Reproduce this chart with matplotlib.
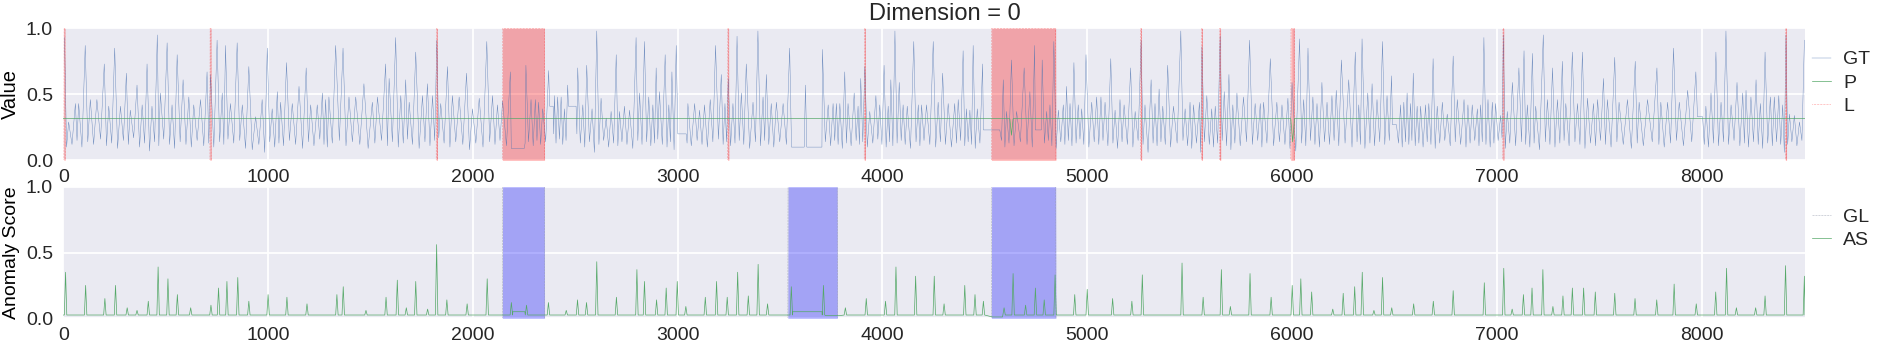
import numpy as np
import matplotlib
matplotlib.use("Agg")
import matplotlib.pyplot as plt

# ---------------- data ----------------
N = 8505
X_TICKS = [0, 1000, 2000, 3000, 4000, 5000, 6000, 7000, 8000]
Y_TICKS = [0.0, 0.5, 1.0]
TITLE = "Dimension = 0"

# GT: key points (x, value) and the low value reached after each key point
GT_X = [6, 26, 59, 75, 107, 132, 164, 200, 222, 251,
        279, 308, 327, 360, 385, 409, 433, 459, 474, 507,
        531, 556, 585, 613, 637, 670, 702, 719, 751, 776,
        792, 816, 849, 874, 906, 939, 971, 996, 1020, 1045,
        1061, 1090, 1118, 1151, 1186, 1208, 1240, 1265, 1281, 1297,
        1330, 1366, 1395, 1428, 1468, 1509, 1534, 1574, 1591, 1623,
        1648, 1672, 1689, 1721, 1754, 1778, 1803, 1824, 1843, 1876,
        1900, 1933, 1969, 1998, 2031, 2068, 2096, 2120, 2145, 2183,
        2192, 2251, 2259, 2284, 2305, 2321, 2341, 2370, 2380, 2392,
        2398, 2414, 2431, 2447, 2463, 2470, 2504, 2512, 2537, 2556,
        2582, 2605, 2626, 2651, 2675, 2700, 2716, 2740, 2765, 2797,
        2814, 2838, 2859, 2879, 2895, 2911, 2939, 2957, 2972, 2993,
        3009, 3042, 3050, 3083, 3107, 3131, 3159, 3185, 3213, 3231,
        3247, 3270, 3290, 3311, 3335, 3368, 3392, 3417, 3433, 3457,
        3482, 3515, 3547, 3565, 3612, 3624, 3637, 3702, 3707, 3735,
        3759, 3775, 3792, 3816, 3832, 3862, 3881, 3894, 3914, 3938,
        3968, 3987, 4008, 4028, 4041, 4061, 4082, 4101, 4121, 4153,
        4175, 4191, 4215, 4248, 4272, 4294, 4321, 4353, 4370, 4394,
        4410, 4427, 4443, 4463, 4489, 4497, 4573, 4590, 4606, 4630,
        4655, 4692, 4720, 4743, 4750, 4772, 4780, 4802, 4818, 4837,
        4859, 4883, 4899, 4916, 4935, 4956, 4973, 4994, 5022, 5046,
        5067, 5087, 5115, 5136, 5160, 5180, 5212, 5234, 5263, 5282,
        5312, 5331, 5351, 5369, 5393, 5421, 5457, 5478, 5502, 5519,
        5548, 5560, 5584, 5608, 5625, 5649, 5669, 5692, 5711, 5731,
        5763, 5793, 5820, 5845, 5861, 5894, 5926, 5951, 5980, 6000,
        6037, 6057, 6078, 6102, 6122, 6146, 6171, 6195, 6216, 6241,
        6277, 6309, 6326, 6342, 6370, 6391, 6415, 6442, 6464, 6486,
        6495, 6510, 6530, 6546, 6562, 6579, 6592, 6611, 6628, 6652,
        6668, 6689, 6709, 6734, 6758, 6787, 6807, 6840, 6859, 6880,
        6905, 6921, 6937, 6957, 6978, 6994, 7019, 7032, 7051, 7076,
        7108, 7133, 7149, 7174, 7190, 7227, 7247, 7272, 7296, 7320,
        7337, 7369, 7394, 7418, 7443, 7472, 7492, 7521, 7540, 7576,
        7597, 7638, 7676, 7695, 7736, 7782, 7801, 7834, 7863, 7891,
        7932, 7972, 7988, 8005, 8021, 8046, 8070, 8095, 8119, 8144,
        8173, 8201, 8217, 8241, 8266, 8287, 8310, 8336, 8355, 8377,
        8396, 8412, 8429, 8453, 8478, 8502]
GT_PEAK = [.93, .29, .43, .43, .87, .46, .46, .73, .41, .85,
           .41, .66, .38, .57, .42, .73, .41, .95, .51, .89,
           .42, .80, .61, .48, .42, .46, .67, .65, .91, .51,
           .87, .43, .89, .42, .71, .33, .46, .85, .39, .52,
           .44, .74, .43, .56, .70, .42, .42, .51, .46, .48,
           .87, .85, .48, .48, .58, .44, .48, .73, .62, .93,
           .49, .61, .44, .82, .49, .58, .49, .91, .43, .71,
           .49, .48, .66, .39, .47, .90, .49, .42, .45, .67,
           .09, .09, .72, .46, .46, .44, .39, .68, .41, .41,
           .49, .48, .48, .39, .57, .41, .41, .70, .42, .72,
           .39, .98, .47, .32, .37, .80, .37, .41, .38, .93,
           .51, .90, .48, .42, .70, .52, .80, .42, .67, .87,
           .20, .20, .43, .43, .38, .42, .46, .87, .65, .43,
           .62, .43, .94, .51, .73, .44, .98, .48, .65, .43,
           .44, .43, .85, .10, .10, .57, .10, .10, .84, .42,
           .43, .43, .43, .67, .43, .51, .41, .62, .71, .37,
           .49, .42, .72, .41, .61, .98, .59, .42, .41, .90,
           .42, .42, .42, .90, .44, .66, .43, .43, .46, .83,
           .39, .38, .87, .39, .73, .23, .23, .61, .37, .76,
           .37, .70, .52, .87, .23, .23, .76, .37, .42, .90,
           .38, .42, .56, .43, .74, .42, .39, .80, .44, .48,
           .48, .44, .77, .38, .46, .42, .70, .37, .91, .42,
           .61, .43, .54, .41, .72, .41, .98, .39, .44, .42,
           .44, .86, .49, .39, .41, .94, .52, .65, .42, .51,
           .48, .91, .43, .43, .44, .77, .44, .42, .47, .59,
           .92, .46, .85, .48, .43, .59, .44, .49, .53, .76,
           .61, .82, .42, .92, .51, .58, .46, .90, .49, .64,
           .27, .27, .42, .44, .51, .43, .66, .41, .41, .42,
           .43, .77, .41, .44, .35, .79, .46, .46, .42, .42,
           .39, .42, .93, .46, .44, .43, .34, .95, .37, .59,
           .70, .83, .42, .81, .41, .95, .46, .70, .46, .75,
           .43, .82, .43, .82, .47, .43, .46, .62, .46, .78,
           .44, .46, .75, .44, .46, .70, .44, .44, .85, .44,
           .53, .67, .33, .33, .41, .51, .82, .44, .98, .42,
           .59, .51, .53, .48, .61, .43, .82, .48, .48, .49,
           .42, .95, .35, .34, .29, .91]
GT_VALLEY = [.10, .12, .15, .10, .14, .12, .16, .11, .13, .09,
             .15, .12, .17, .10, .13, .07, .14, .11, .16, .12,
             .09, .14, .12, .10, .15, .11, .13, .10, .14, .12,
             .16, .13, .15, .09, .08, .12, .06, .14, .10, .13,
             .11, .15, .12, .09, .14, .11, .16, .12, .10, .13,
             .15, .11, .14, .12, .09, .13, .15, .11, .14, .10,
             .13, .16, .12, .09, .14, .11, .15, .17, .13, .10,
             .14, .12, .08, .13, .10, .14, .12, .15, .11, .09,
             .09, .13, .14, .11, .15, .12, .14, .41, .41, .20,
             .13, .16, .12, .15, .41, .41, .20, .13, .10, .14,
             .06, .12, .15, .10, .13, .11, .14, .12, .09, .15,
             .12, .14, .11, .13, .16, .12, .10, .14, .08, .20,
             .20, .13, .11, .15, .12, .10, .14, .16, .12, .14,
             .11, .13, .15, .12, .09, .14, .11, .15, .12, .10,
             .14, .12, .10, .10, .10, .10, .10, .10, .14, .11,
             .15, .12, .09, .13, .11, .15, .12, .14, .10, .13,
             .16, .12, .10, .14, .11, .13, .15, .12, .09, .14,
             .11, .15, .12, .10, .14, .12, .10, .13, .15, .11,
             .14, .12, .09, .13, .23, .23, .15, .10, .13, .11,
             .14, .12, .10, .23, .23, .23, .13, .15, .11, .09,
             .14, .12, .15, .11, .13, .16, .12, .10, .14, .12,
             .15, .11, .13, .09, .14, .12, .10, .15, .12, .06,
             .13, .11, .14, .12, .10, .13, .15, .11, .09, .13,
             .06, .14, .12, .10, .13, .15, .11, .08, .13, .11,
             .14, .12, .15, .10, .13, .11, .14, .12, .09, .07,
             .13, .11, .15, .12, .10, .14, .12, .15, .11, .13,
             .10, .14, .12, .09, .13, .11, .14, .12, .15, .27,
             .27, .13, .10, .14, .12, .15, .11, .13, .10, .14,
             .12, .09, .13, .15, .11, .14, .12, .10, .13, .15,
             .11, .14, .12, .10, .13, .15, .17, .09, .13, .11,
             .14, .12, .10, .13, .08, .14, .12, .10, .13, .15,
             .11, .14, .12, .09, .13, .11, .15, .12, .10, .14,
             .12, .09, .13, .11, .14, .12, .10, .13, .15, .11,
             .14, .33, .33, .12, .10, .13, .11, .14, .12, .15,
             .11, .13, .10, .14, .12, .09, .13, .11, .14, .12,
             .06, .12, .14, .11, .15, .30]

# P: prediction (nearly constant)
P_X = [0, 4622, 4630, 4638, 5994, 6003, 6012, 8505]
P_Y = [0.316, 0.316, 0.19, 0.316, 0.316, 0.14, 0.316, 0.316]

# L: labelled anomaly ranges (top), GL: ranges (bottom)
L_SPANS = [(4, 8), (717, 721), (1822, 1826), (2145, 2349), (3245, 3249),
           (3912, 3916), (4533, 4846), (5261, 5265), (5558, 5562),
           (5647, 5651), (5995, 6011), (7030, 7034), (8410, 8414)]
GL_SPANS = [(2145, 2349), (3539, 3779), (4533, 4846)]

# AS: anomaly score spikes
AS_BASE = 0.025
AS_SPIKE_X = [11, 109, 203, 255, 312, 360, 415, 463, 511, 557,
              622, 721, 758, 799, 852, 906, 1000, 1092, 1190, 1336,
              1367, 1478, 1576, 1631, 1675, 1721, 1779, 1823, 1873, 1972,
              2070, 2188, 2262, 2369, 2456, 2511, 2555, 2605, 2701, 2801,
              2838, 2897, 2944, 2998, 3040, 3135, 3190, 3242, 3293, 3345,
              3393, 3439, 3555, 3712, 3819, 3921, 4015, 4066, 4162, 4253,
              4301, 4402, 4452, 4493, 4594, 4638, 4699, 4747, 4790, 4843,
              4939, 5000, 5124, 5218, 5269, 5463, 5566, 5655, 5699, 5795,
              5898, 6001, 6043, 6096, 6199, 6250, 6306, 6343, 6400, 6442,
              6487, 6594, 6690, 6787, 6939, 7034, 7075, 7130, 7172, 7225,
              7274, 7323, 7369, 7424, 7481, 7576, 7675, 7781, 7866, 7974,
              8069, 8122, 8170, 8264, 8310, 8410, 8502]
AS_SPIKE_Y = [.35, .25, .15, .25, .08, .06, .13, .39, .30, .18,
              .08, .10, .23, .28, .31, .13, .18, .16, .11, .18,
              .24, .06, .16, .29, .08, .28, .07, .56, .14, .11,
              .30, .12, .10, .12, .06, .14, .12, .43, .16, .37,
              .28, .14, .23, .28, .09, .16, .28, .16, .35, .17,
              .41, .11, .24, .25, .08, .15, .13, .39, .32, .32,
              .11, .25, .18, .13, .08, .34, .10, .23, .14, .33,
              .18, .22, .15, .13, .33, .42, .16, .37, .09, .34,
              .16, .25, .30, .20, .07, .19, .24, .35, .06, .31,
              .08, .11, .13, .21, .27, .38, .07, .18, .23, .37,
              .09, .17, .23, .23, .20, .19, .15, .14, .26, .11,
              .20, .38, .08, .08, .17, .40, .32]
AS_FLATS = [(2195, 2254, 0.05), (3562, 3705, 0.05), (3725, 3790, 0.02),
            (4537, 4586, 0.01)]

assert len(GT_X) == len(GT_PEAK) == len(GT_VALLEY)
assert len(AS_SPIKE_X) == len(AS_SPIKE_Y)

# ---------------- build series ----------------
gt_x, gt_y = [], []
for i in range(len(GT_X)):
    gt_x.append(GT_X[i]); gt_y.append(GT_PEAK[i])
    if i < len(GT_X) - 1:
        gt_x.append(0.5 * (GT_X[i] + GT_X[i + 1])); gt_y.append(GT_VALLEY[i])

HW = 6
pts = [(0, AS_BASE), (N, AS_BASE)]
for x, h in zip(AS_SPIKE_X, AS_SPIKE_Y):
    pts += [(x - HW, AS_BASE), (x, h), (x + HW, AS_BASE)]
def in_flat(x):
    return any(a <= x <= b for a, b, _ in AS_FLATS)
pts = [(x, y) for x, y in pts if not (y == AS_BASE and in_flat(x))]
for a, b, lev in AS_FLATS:
    pts += [(a, lev), (b, lev)]
pts.sort(key=lambda p: p[0])
as_x = [p[0] for p in pts]
as_y = [p[1] for p in pts]

idx = np.arange(N + 1)
def binary(spans):
    arr = np.zeros(N + 1)
    for a, b in spans:
        arr[a:b + 1] = 1.0
    return arr
l_arr = binary(L_SPANS)
gl_arr = binary(GL_SPANS)

# ---------------- style ----------------
plt.rcParams.update({
    "font.family": ["Liberation Sans", "DejaVu Sans"],
    "axes.facecolor": "#EAEAF2",
    "axes.edgecolor": "white",
    "axes.linewidth": 0,
    "axes.axisbelow": True,
    "grid.color": "white",
    "grid.linewidth": 1.3,
    "xtick.major.size": 0,
    "ytick.major.size": 0,
    "xtick.major.pad": 6.5,
    "ytick.major.pad": 7.5,
    "xtick.labelsize": 14,
    "ytick.labelsize": 14,
    "text.color": "#262626",
    "xtick.color": "#262626",
    "ytick.color": "#262626",
})

W, H = 1900, 346
fig = plt.figure(figsize=(W / 100, H / 100), dpi=100)
x0, x1 = 63.3, 1805
ax1 = fig.add_axes([x0 / W, 1 - 160.3 / H, (x1 - x0) / W, 132 / H])
ax2 = fig.add_axes([x0 / W, 1 - 318.3 / H, (x1 - x0) / W, 131.6 / H])

BLUE = "#4c72b0"
GREEN = "#55a868"

# top
ax1.fill_between(idx, l_arr, color="red", alpha=0.3, lw=0, zorder=1)
gt_line, = ax1.plot(gt_x, gt_y, color=BLUE, lw=0.3, alpha=0.85, label="GT", zorder=2)
p_line, = ax1.plot(P_X, P_Y, color=GREEN, lw=0.5, label="P", zorder=3)
l_line, = ax1.plot(idx, l_arr, ":", color="red", lw=0.4, alpha=0.7, label="L", zorder=2)
ax1.set_xlim(0, N)
ax1.set_ylim(0, 1)
ax1.set_xticks(X_TICKS)
ax1.set_yticks(Y_TICKS)
ax1.grid(True)
ax1.set_title(TITLE, fontsize=17, pad=6, x=0.5063)
ax1.set_ylabel("Value", fontsize=14.5)
ax1.yaxis.set_label_coords((20 - x0) / (x1 - x0), 0.5)
ax1.legend(handles=[gt_line, p_line, l_line], loc="center left",
           bbox_to_anchor=((1812 - x0) / (x1 - x0), 0.586), frameon=False,
           fontsize=14, borderpad=0, borderaxespad=0, handlelength=1.0,
           handletextpad=0.6, labelspacing=0.3)

# bottom
ax2.fill_between(idx, gl_arr, color="blue", alpha=0.3, lw=0, zorder=1)
gl_line, = ax2.plot(idx, gl_arr, "--", color="#9aa0b0", lw=0.4, alpha=0.8, label="GL", zorder=2)
as_line, = ax2.plot(as_x, as_y, color=GREEN, lw=0.5, label="AS", zorder=3)
ax2.set_xlim(0, N)
ax2.set_ylim(0, 1)
ax2.set_xticks(X_TICKS)
ax2.set_yticks(Y_TICKS)
ax2.grid(True)
ax2.set_ylabel("Anomaly Score", fontsize=14)
ax2.yaxis.set_label_coords((20 - x0) / (x1 - x0), 0.5)
ax2.legend(handles=[gl_line, as_line], loc="center left",
           bbox_to_anchor=((1812 - x0) / (x1 - x0), 0.681), frameon=False,
           fontsize=14, borderpad=0, borderaxespad=0, handlelength=1.0,
           handletextpad=0.6, labelspacing=0.3)

fig.savefig("out.png", dpi=100)
